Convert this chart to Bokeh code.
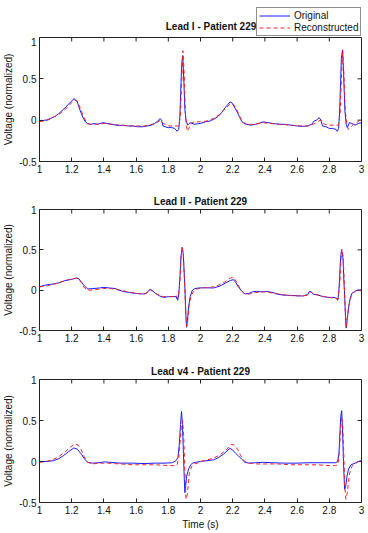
import math

from bokeh.plotting import figure
from bokeh.layouts import column
from bokeh.models import (FixedTicker, PrintfTickFormatter, Range1d, Legend, LegendItem, Label)
from bokeh.embed import file_html
from bokeh.resources import INLINE

FONT = "Liberation Sans"
BLUE = "#1a1aff"
RED = "#ff2020"

x_ticks = [1.0, 1.2, 1.4, 1.6, 1.8, 2.0, 2.2, 2.4, 2.6, 2.8, 3.0]
y_ticks = [-0.5, 0.0, 0.5, 1.0]

# ---- Lead I ----
lead1_t_orig = [1.00, 1.01, 1.02, 1.03, 1.05, 1.07, 1.086, 1.10, 1.12, 1.148, 1.165, 1.178, 1.195,
                1.205, 1.213, 1.222, 1.235, 1.25, 1.27, 1.285, 1.30, 1.32, 1.34, 1.36, 1.394,
                1.42, 1.45, 1.475, 1.497, 1.52, 1.55, 1.58, 1.61, 1.64, 1.67, 1.695, 1.712,
                1.73, 1.749, 1.758, 1.767, 1.78, 1.80, 1.82, 1.84, 1.855, 1.865, 1.872, 1.878,
                1.884, 1.890, 1.897, 1.903, 1.91, 1.92, 1.93, 1.94, 1.96, 1.98, 2.00, 2.03,
                2.06, 2.09, 2.112, 2.13, 2.153, 2.17, 2.183, 2.195, 2.21, 2.225, 2.24, 2.255,
                2.27, 2.286, 2.31, 2.34, 2.365, 2.389, 2.42, 2.45, 2.49, 2.52, 2.56, 2.60,
                2.635, 2.665, 2.69, 2.706, 2.72, 2.737, 2.748, 2.758, 2.78, 2.80, 2.82, 2.84,
                2.85, 2.858, 2.864, 2.870, 2.875, 2.882, 2.889, 2.897, 2.905, 2.912, 2.925,
                2.94, 2.96, 2.98, 3.00]
lead1_v_orig = [-0.01, 0.00, -0.01, 0.00, 0.00, 0.02, 0.037, 0.05, 0.08, 0.13, 0.16, 0.19, 0.22,
                0.24, 0.26, 0.25, 0.22, 0.13, 0.03, -0.02, -0.045, -0.05, -0.04, -0.05, -0.03,
                -0.04, -0.05, -0.06, -0.065, -0.06, -0.07, -0.07, -0.08, -0.08, -0.07, -0.06,
                -0.045, -0.02, 0.02, 0.00, -0.07, -0.08, -0.09, -0.09, -0.10, -0.135, -0.11,
                0.05, 0.40, 0.70, 0.78, 0.45, 0.13, 0.00, -0.06, -0.04, -0.03, -0.05, -0.045,
                -0.04, -0.02, -0.01, 0.02, 0.05, 0.09, 0.15, 0.19, 0.22, 0.21, 0.16, 0.11,
                0.05, -0.01, -0.04, -0.05, -0.06, -0.05, -0.04, -0.02, -0.03, -0.04, -0.05,
                -0.05, -0.06, -0.07, -0.075, -0.07, -0.05, -0.01, 0.00, 0.03, 0.00, -0.07,
                -0.08, -0.10, -0.10, -0.11, -0.135, -0.10, 0.10, 0.45, 0.75, 0.85, 0.55, 0.11,
                -0.05, -0.09, -0.03, -0.04, -0.06, -0.04, -0.03]

lead1_t_rec = [1.00, 1.04, 1.08, 1.12, 1.16, 1.19, 1.215, 1.232, 1.25, 1.27, 1.29, 1.31, 1.35,
               1.40, 1.45, 1.50, 1.55, 1.60, 1.65, 1.70, 1.73, 1.75, 1.77, 1.80, 1.84, 1.865,
               1.875, 1.883, 1.891, 1.899, 1.906, 1.913, 1.919, 1.927, 1.94, 1.96, 2.00, 2.04,
               2.08, 2.12, 2.15, 2.18, 2.20, 2.22, 2.24, 2.26, 2.29, 2.33, 2.38, 2.43, 2.50,
               2.56, 2.62, 2.67, 2.71, 2.735, 2.75, 2.77, 2.80, 2.84, 2.858, 2.868, 2.876,
               2.884, 2.892, 2.90, 2.91, 2.918, 2.93, 2.95, 2.97, 2.99, 3.00]
lead1_v_rec = [-0.02, 0.00, 0.03, 0.07, 0.13, 0.19, 0.24, 0.24, 0.16, 0.06, -0.02, -0.05,
               -0.05, -0.04, -0.05, -0.06, -0.07, -0.07, -0.07, -0.05, -0.03, 0.00, -0.04,
               -0.07, -0.07, -0.07, 0.05, 0.45, 0.84, 0.55, 0.10, -0.08, -0.135, -0.10, -0.04,
               -0.02, -0.02, -0.01, 0.02, 0.07, 0.13, 0.19, 0.20, 0.15, 0.06, -0.02, -0.05,
               -0.05, -0.03, -0.04, -0.05, -0.06, -0.07, -0.07, -0.04, -0.01, 0.00, -0.05,
               -0.06, -0.06, -0.06, 0.10, 0.55, 0.85, 0.50, 0.10, -0.06, -0.11, -0.09, -0.05,
               -0.03, 0.00, 0.00]

# ---- Lead II ----
lead2_t_orig = [1.00, 1.03, 1.06, 1.086, 1.12, 1.158, 1.19, 1.23, 1.245, 1.26, 1.28, 1.30,
                1.33, 1.373, 1.40, 1.435, 1.47, 1.517, 1.56, 1.60, 1.64, 1.665, 1.68, 1.69,
                1.70, 1.72, 1.745, 1.773, 1.80, 1.83, 1.849, 1.858, 1.865, 1.872, 1.879, 1.886,
                1.893, 1.902, 1.908, 1.913, 1.918, 1.926, 1.936, 1.948, 1.965, 1.99, 2.03,
                2.08, 2.12, 2.163, 2.185, 2.204, 2.218, 2.232, 2.245, 2.26, 2.276, 2.30, 2.325,
                2.348, 2.38, 2.409, 2.45, 2.48, 2.512, 2.56, 2.60, 2.635, 2.665, 2.676, 2.686,
                2.70, 2.73, 2.76, 2.80, 2.83, 2.845, 2.852, 2.858, 2.864, 2.870, 2.876, 2.885,
                2.891, 2.896, 2.901, 2.905, 2.912, 2.92, 2.93, 2.94, 2.955, 2.973, 2.99, 3.00]
lead2_v_orig = [0.043, 0.06, 0.07, 0.077, 0.09, 0.118, 0.13, 0.15, 0.14, 0.10, 0.05, 0.015,
                0.02, 0.027, 0.035, 0.027, 0.02, -0.015, -0.03, -0.04, -0.047, -0.04, 0.00,
                0.01, -0.005, -0.04, -0.07, -0.09, -0.08, -0.08, -0.08, -0.125, -0.05, 0.15,
                0.42, 0.53, 0.45, 0.08, -0.25, -0.46, -0.40, -0.21, -0.08, -0.005, 0.02, 0.027,
                0.03, 0.027, 0.05, 0.097, 0.12, 0.13, 0.10, 0.05, 0.015, -0.02, -0.047, -0.04,
                -0.02, -0.015, -0.02, -0.015, -0.03, -0.05, -0.06, -0.065, -0.07, -0.072,
                -0.06, -0.015, -0.02, -0.05, -0.06, -0.08, -0.09, -0.09, -0.10, -0.125, -0.05,
                0.15, 0.40, 0.50, 0.40, 0.10, -0.10, -0.35, -0.47, -0.35, -0.22, -0.10, -0.04,
                -0.02, 0.00, 0.00, 0.00]

lead2_t_rec = [1.00, 1.04, 1.08, 1.12, 1.16, 1.20, 1.235, 1.255, 1.275, 1.295, 1.32, 1.36,
               1.40, 1.44, 1.50, 1.55, 1.60, 1.65, 1.675, 1.69, 1.705, 1.73, 1.77, 1.82, 1.85,
               1.862, 1.872, 1.879, 1.886, 1.893, 1.902, 1.908, 1.914, 1.92, 1.928, 1.94,
               1.955, 1.975, 2.00, 2.05, 2.10, 2.15, 2.185, 2.205, 2.225, 2.245, 2.27, 2.30,
               2.34, 2.40, 2.46, 2.52, 2.58, 2.64, 2.67, 2.685, 2.70, 2.74, 2.80, 2.84, 2.855,
               2.866, 2.872, 2.878, 2.886, 2.893, 2.899, 2.905, 2.912, 2.92, 2.935, 2.955,
               2.975, 3.00]
lead2_v_rec = [0.04, 0.05, 0.07, 0.09, 0.12, 0.14, 0.15, 0.11, 0.04, 0.00, 0.00, 0.01, 0.02,
               0.02, 0.00, -0.02, -0.04, -0.05, -0.02, 0.00, -0.01, -0.05, -0.08, -0.08,
               -0.07, -0.10, 0.10, 0.40, 0.54, 0.45, 0.05, -0.28, -0.45, -0.40, -0.20, -0.08,
               -0.02, 0.01, 0.03, 0.03, 0.05, 0.10, 0.15, 0.16, 0.10, 0.02, -0.04, -0.05,
               -0.03, -0.02, -0.04, -0.06, -0.07, -0.07, -0.05, -0.02, -0.04, -0.07, -0.09,
               -0.10, -0.11, 0.10, 0.35, 0.51, 0.42, 0.10, -0.25, -0.47, -0.33, -0.20, -0.08,
               -0.02, 0.00, -0.01]

# ---- Lead v4 ----
leadv4_t_orig = [1.00, 1.04, 1.086, 1.12, 1.148, 1.18, 1.213, 1.235, 1.26, 1.28, 1.30, 1.33,
                 1.37, 1.404, 1.45, 1.50, 1.578, 1.65, 1.72, 1.78, 1.825, 1.849, 1.86, 1.868,
                 1.876, 1.882, 1.888, 1.894, 1.899, 1.903, 1.908, 1.914, 1.926, 1.94, 1.95,
                 1.97, 2.00, 2.04, 2.08, 2.11, 2.143, 2.165, 2.183, 2.20, 2.218, 2.235, 2.255,
                 2.276, 2.30, 2.34, 2.39, 2.45, 2.52, 2.60, 2.68, 2.76, 2.84, 2.852, 2.86,
                 2.866, 2.871, 2.877, 2.882, 2.888, 2.895, 2.902, 2.91, 2.92, 2.935, 2.96, 2.98,
                 3.00]
leadv4_v_orig = [0.00, 0.00, 0.01, 0.035, 0.07, 0.12, 0.165, 0.15, 0.09, 0.03, -0.012, -0.02,
                 -0.015, -0.005, -0.012, -0.02, -0.02, -0.025, -0.02, -0.02, -0.015, 0.012,
                 0.05, 0.20, 0.45, 0.61, 0.45, 0.10, -0.20, -0.38, -0.30, -0.18, -0.09, -0.04,
                 -0.02, -0.01, 0.00, 0.01, 0.02, 0.045, 0.09, 0.13, 0.16, 0.14, 0.10, 0.07,
                 0.03, -0.01, -0.02, -0.015, -0.01, -0.015, -0.02, -0.02, -0.015, -0.015,
                 -0.015, 0.00, 0.10, 0.35, 0.55, 0.62, 0.40, 0.00, -0.34, -0.30, -0.18, -0.09,
                 -0.04, -0.02, 0.00, 0.01]

leadv4_t_rec = [1.00, 1.04, 1.08, 1.12, 1.16, 1.195, 1.22, 1.24, 1.26, 1.28, 1.30, 1.33, 1.37,
                1.42, 1.50, 1.578, 1.65, 1.72, 1.80, 1.84, 1.855, 1.865, 1.874, 1.882, 1.889,
                1.896, 1.903, 1.91, 1.918, 1.93, 1.945, 1.96, 1.98, 2.00, 2.04, 2.08, 2.12,
                2.16, 2.19, 2.21, 2.23, 2.25, 2.275, 2.30, 2.35, 2.40, 2.48, 2.56, 2.64, 2.72,
                2.80, 2.84, 2.853, 2.862, 2.869, 2.876, 2.883, 2.89, 2.896, 2.903, 2.912, 2.925,
                2.94, 2.96, 2.98, 3.00]
leadv4_v_rec = [-0.01, 0.00, 0.02, 0.06, 0.12, 0.18, 0.215, 0.20, 0.14, 0.05, -0.01, -0.03,
                -0.02, -0.02, -0.03, -0.04, -0.04, -0.04, -0.05, -0.05, -0.04, 0.05, 0.25, 0.45,
                0.50, 0.30, -0.10, -0.46, -0.40, -0.15, -0.06, -0.03, -0.02, 0.00, 0.02, 0.04,
                0.08, 0.14, 0.21, 0.20, 0.15, 0.07, 0.00, -0.02, -0.03, -0.03, -0.03, -0.04,
                -0.04, -0.04, -0.05, -0.05, -0.04, 0.10, 0.35, 0.55, 0.45, 0.10, -0.30, -0.46,
                -0.38, -0.15, -0.06, -0.03, 0.00, 0.01]

titles = ["Lead I - Patient 229", "Lead II - Patient 229", "Lead v4 - Patient 229"]
series_names = ["Original", "Reconstructed"]
leads = [
    (lead1_t_orig, lead1_v_orig, lead1_t_rec, lead1_v_rec),
    (lead2_t_orig, lead2_v_orig, lead2_t_rec, lead2_v_rec),
    (leadv4_t_orig, leadv4_v_orig, leadv4_t_rec, leadv4_v_rec),
]

HEADER_H = 37
# (height, top border, bottom border) of each panel; frame heights follow
panel_sizes = [(143, 0, 19), (170, 29, 20), (183, 29, 31)]


def style_axis(ax, ticks):
    ax.ticker = FixedTicker(ticks=ticks)
    ax.formatter = PrintfTickFormatter(format="%g")
    ax.major_tick_in = 4
    ax.major_tick_out = 0
    ax.minor_tick_line_color = None
    ax.axis_line_color = None
    ax.major_tick_line_color = "#222222"
    ax.major_label_text_font = FONT
    ax.major_label_text_font_size = "10px"
    ax.major_label_text_color = "#111111"
    ax.major_label_standoff = 3
    ax.axis_label_text_font = FONT
    ax.axis_label_text_font_size = "10px"
    ax.axis_label_text_font_style = "normal"
    ax.axis_label_text_color = "#111111"
    ax.axis_label_standoff = 2


def title_style(t):
    t.text_font = FONT
    t.text_font_size = "10px"
    t.text_font_style = "bold"
    t.text_color = "#111111"


# header strip: first title and the shared legend
header = figure(width=368, height=HEADER_H, output_backend="svg", toolbar_location=None,
                x_range=Range1d(0, 368), y_range=Range1d(0, HEADER_H),
                x_axis_type=None, y_axis_type=None, min_border=0)
header.grid.visible = False
header.outline_line_color = None
header.border_fill_color = "white"
header.background_fill_color = "white"
lbl = Label(x=196, y=11, text=titles[0], text_align="center", text_baseline="middle")
title_style(lbl)
header.add_layout(lbl)
# legend keys: line renderers with no drawable points, styled like the traces
nan = float("nan")
key_orig = header.line(x=[nan, nan], y=[nan, nan], line_color=BLUE, line_width=1)
key_rec = header.line(x=[nan, nan], y=[nan, nan], line_color=RED, line_width=1, line_dash="4 3")
legend = Legend(items=[LegendItem(label=series_names[0], renderers=[key_orig]),
                       LegendItem(label=series_names[1], renderers=[key_rec])],
                location=(217, 1))
legend.label_text_font = FONT
legend.label_text_font_size = "10px"
legend.label_text_color = "#111111"
legend.border_line_color = "#222222"
legend.border_line_width = 1
legend.background_fill_color = "white"
legend.background_fill_alpha = 1
legend.padding = 2
legend.margin = 0
legend.spacing = 1
legend.glyph_width = 31
legend.glyph_height = 11
legend.label_height = 11
legend.label_standoff = 4
header.add_layout(legend)

figs = [header]
for i, (t_o, v_o, t_r, v_r) in enumerate(leads):
    h, top, bottom = panel_sizes[i]
    kw = dict(width=368, height=h, output_backend="svg", toolbar_location=None,
              x_range=Range1d(1, 3), y_range=Range1d(-0.5, 1),
              min_border_left=36, min_border_right=7, min_border_top=top,
              min_border_bottom=bottom)
    if i > 0:
        kw["title"] = titles[i]
    p = figure(**kw)
    if i > 0:
        title_style(p.title)
        p.title.align = "center"
        p.title.standoff = 6
    p.grid.visible = False
    p.outline_line_color = "#222222"
    p.outline_line_width = 1
    p.background_fill_color = "white"
    p.border_fill_color = "white"

    style_axis(p.xaxis[0], x_ticks)
    style_axis(p.yaxis[0], y_ticks)
    p.yaxis[0].axis_label = "Voltage (normalized)"
    if i == 2:
        p.xaxis[0].axis_label = "Time (s)"

    # inward ticks mirrored on the top and right edges of the box
    p.ray(x=x_ticks, y=[1.0] * len(x_ticks), length=4, length_units="screen",
          angle=-math.pi / 2, line_color="#222222", line_width=1)
    p.ray(x=[3.0] * len(y_ticks), y=y_ticks, length=4, length_units="screen",
          angle=math.pi, line_color="#222222", line_width=1)

    p.line(t_o, v_o, line_color=BLUE, line_width=1)
    p.line(t_r, v_r, line_color=RED, line_width=1, line_dash="4 3")
    figs.append(p)

page = column(*figs, spacing=0)
open("out.html", "w").write(file_html(page, INLINE))
